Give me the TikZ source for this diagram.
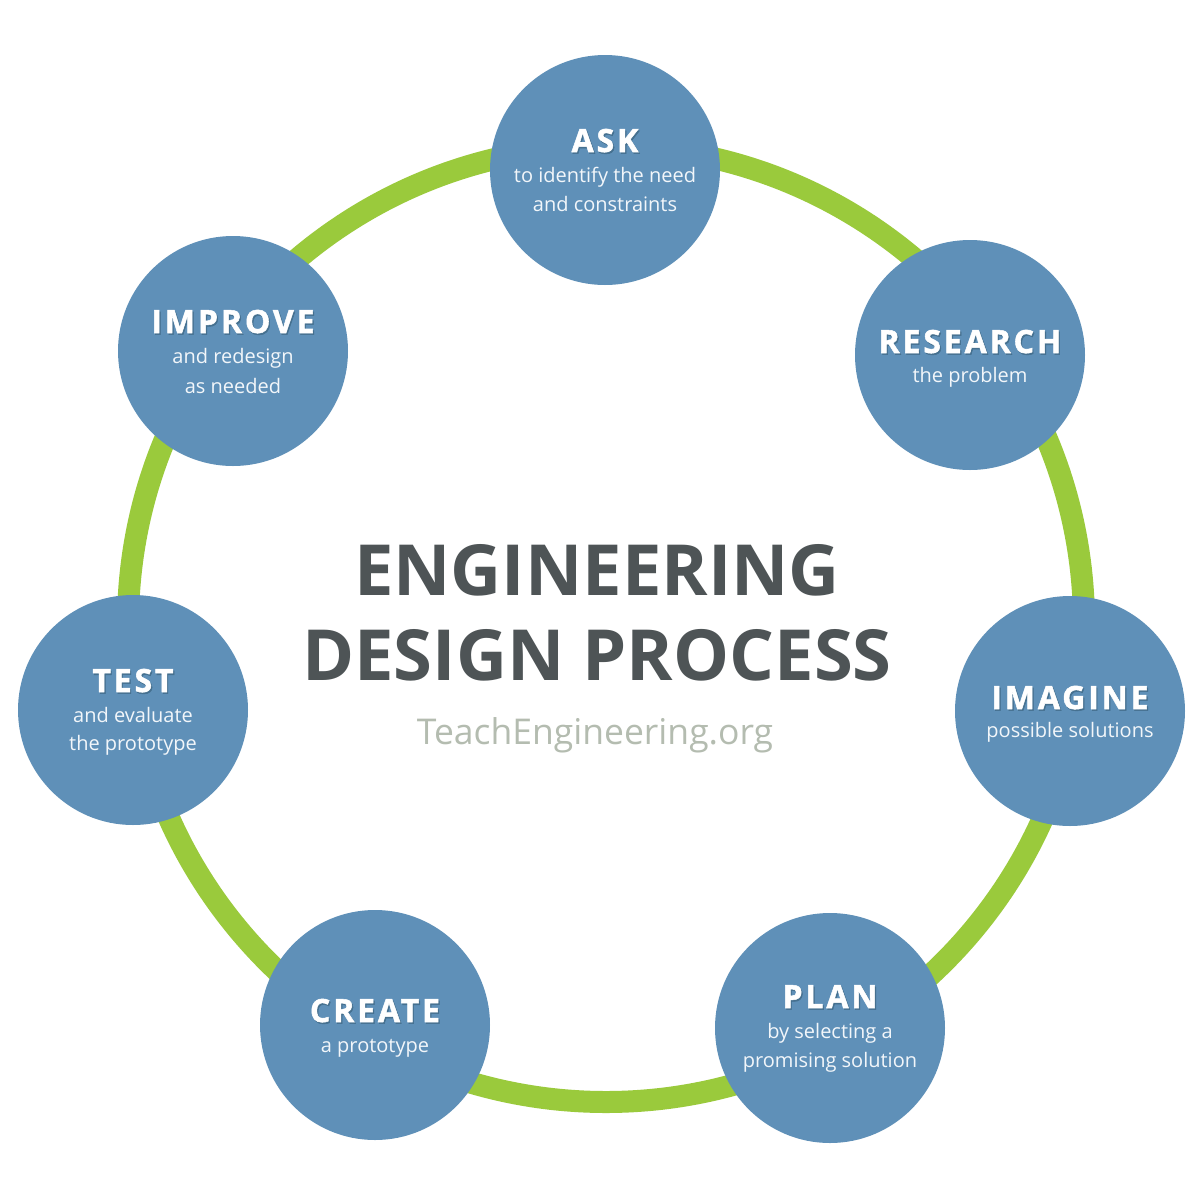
\documentclass[tikz,border=0pt]{standalone}
\usepackage{fontspec}
\setmainfont{Open Sans}
\newfontfamily\headfont[LetterSpace=9,BoldFeatures={FakeBold=1.6}]{Open Sans}
\usetikzlibrary{calc}
\definecolor{ringgreen}{HTML}{9ACA3C}
\definecolor{circblue}{HTML}{5F90B8}
\definecolor{shadowblue}{HTML}{45708F}
\definecolor{titlegray}{HTML}{4E5456}
\definecolor{urlgray}{HTML}{B4BCB0}
\definecolor{subwhite}{HTML}{F2F6FA}
\newcommand{\stagehead}[3]{%
  \node[head,text=shadowblue] (#1s) at ($#2+(1.2,1.6)$) {#3};
  \node[head] (#1) at #2 {#3};}
\begin{document}
\begin{tikzpicture}[x=1pt,y=-1pt,
  stage/.style={circle,fill=circblue,minimum size=230pt,inner sep=0pt},
  head/.style={anchor=base,text=white,inner sep=0pt,font=\headfont\bfseries\fontsize{32}{32}\selectfont},
  sub/.style={anchor=base,text=subwhite,inner sep=0pt,font=\fontsize{20}{20}\selectfont},
  title/.style={anchor=base,text=titlegray,inner sep=0pt,font=\bfseries\fontsize{70.5}{70.5}\selectfont}]
\useasboundingbox[fill=white] (0,0) rectangle (1200,1200);
\node[circle,draw=ringgreen,line width=22pt,minimum size=956pt,inner sep=0pt] (ring) at (606,624) {};
% stages
\node[stage] (ask) at (605,170) {};
\stagehead{askh}{($(ask)+(0,-18)$)}{ASK}
\node[sub] (asks1) at ($(ask)+(0,12)$) {to identify the need};
\node[sub] (asks2) at ($(ask)+(0,41)$) {and constraints};

\node[stage] (research) at (970,355) {};
\stagehead{researchh}{($(research)+(0,-2)$)}{RESEARCH}
\node[sub] (researchs1) at ($(research)+(0,27)$) {the problem};

\node[stage] (imagine) at (1070,711) {};
\stagehead{imagineh}{($(imagine)+(0,-2)$)}{IMAGINE}
\node[sub] (imagines1) at ($(imagine)+(0,26)$) {possible solutions};

\node[stage] (plan) at (830,1028) {};
\stagehead{planh}{($(plan)+(0,-20)$)}{PLAN}
\node[sub] (plans1) at ($(plan)+(0,10)$) {by selecting a};
\node[sub] (plans2) at ($(plan)+(0,39)$) {promising solution};

\node[stage] (create) at (375,1025) {};
\stagehead{createh}{($(create)+(0,-3)$)}{CREATE}
\node[sub] (creates1) at ($(create)+(0,27)$) {a prototype};

\node[stage] (test) at (133,710) {};
\stagehead{testh}{($(test)+(0,-18)$)}{TEST}
\node[sub] (tests1) at ($(test)+(0,12)$) {and evaluate};
\node[sub] (tests2) at ($(test)+(0,40)$) {the prototype};

\node[stage] (improve) at (233,351) {};
\stagehead{improveh}{($(improve)+(0,-18)$)}{IMPROVE}
\node[sub] (improves1) at ($(improve)+(0,12)$) {and redesign};
\node[sub] (improves2) at ($(improve)+(0,42)$) {as needed};
% title
\node[title] (t1) at (597,595) {ENGINEERING};
\node[title] (t2) at (597,680) {DESIGN PROCESS};
\node[anchor=base,text=urlgray,inner sep=0pt,font=\fontsize{35.5}{35.5}\selectfont] (url) at (595,744) {TeachEngineering.org};
\end{tikzpicture}
\end{document}
